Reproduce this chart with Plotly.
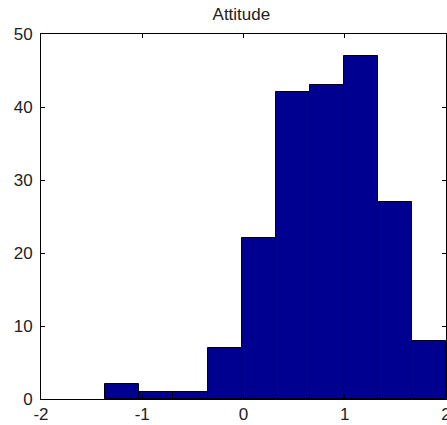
import plotly.graph_objects as go

# Histogram data (10 equal-width bins, MATLAB hist style)
bin_start = -1.365
bin_width = 0.3365
counts = [2, 1, 1, 7, 22, 42, 43, 47, 27, 8]
x_ticks = [-2, -1, 0, 1, 2]
y_ticks = [0, 10, 20, 30, 40, 50]
title_text = "Attitude"

centers = [bin_start + bin_width * (i + 0.5) for i in range(len(counts))]

fig = go.Figure()
fig.add_trace(go.Bar(
    x=centers, y=counts, width=[bin_width] * len(counts),
    marker=dict(color="#000090", line=dict(color="black", width=1)),
    showlegend=False,
))

font_family = "Liberation Sans, Arial, sans-serif"
fig.update_layout(
    width=447, height=425,
    margin=dict(l=41, r=1, t=34, b=26),
    paper_bgcolor="white", plot_bgcolor="white",
    bargap=0,
    title=dict(text=title_text, x=0.54, xanchor="center", y=1 - 14 / 425,
               yanchor="middle", font=dict(family=font_family, size=17, color="#222")),
    font=dict(family=font_family, size=17, color="#222"),
)
fig.update_xaxes(
    range=[-2, 2], tickvals=x_ticks, ticktext=[str(v) for v in x_ticks],
    showline=True, linecolor="black", linewidth=1, mirror="ticks",
    ticks="inside", ticklen=4, tickcolor="black", showgrid=False, zeroline=False,
    ticklabelstandoff=0, ticklabeloverflow="allow", automargin=False,
)
fig.update_yaxes(
    range=[0, 50], tickvals=y_ticks, ticktext=[str(v) for v in y_ticks],
    showline=True, linecolor="black", linewidth=1, mirror="ticks",
    ticks="inside", ticklen=4, tickcolor="black", showgrid=False, zeroline=False,
    ticklabelstandoff=4, automargin=False,
)

fig.write_html("out.html")
